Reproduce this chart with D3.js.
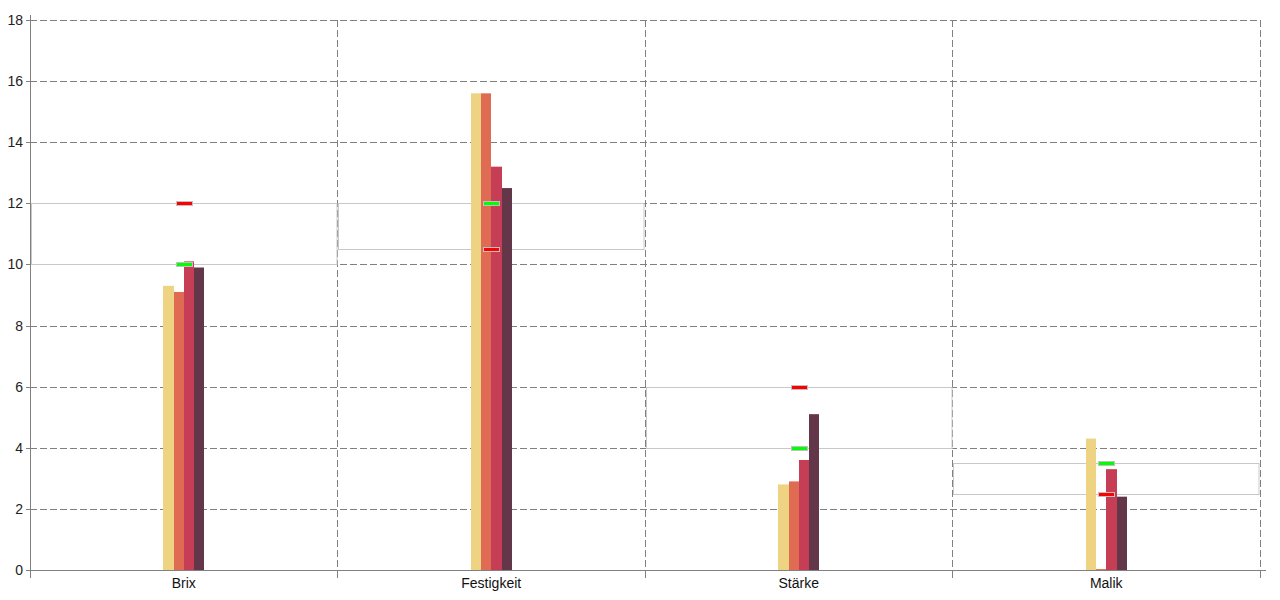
<!DOCTYPE html>
<html>
<head>
<meta charset="utf-8">
<script src="https://cdn.jsdelivr.net/npm/d3@7"></script>
<style>
  html, body { margin: 0; padding: 0; background: #fff; }
  text { font-family: "Liberation Sans", Arial, sans-serif; }
</style>
</head>
<body>
<svg id="chart" width="1280" height="600"></svg>
<script>
const categories = ["Brix", "Festigkeit", "Stärke", "Malik"];
const series1 = [9.3, 15.6, 2.8, 4.3];
const series2 = [9.1, 15.6, 2.9, 0.03];
const series3 = [10.1, 13.2, 3.6, 3.3];
const series4 = [9.9, 12.5, 5.1, 2.4];
const greenMarker = [10, 12, 4, 3.5];
const redMarker = [12, 10.5, 6, 2.5];
const rangeLow = [10, 10.5, 4, 2.5];
const rangeHigh = [12, 12, 6, 3.5];
const yTicks = [0, 2, 4, 6, 8, 10, 12, 14, 16, 18];
const seriesColors = ["#EDD382", "#DE6B52", "#C63D56", "#64364A"];

const allSeries = [series1, series2, series3, series4];

const svg = d3.select("#chart");
const pLeft = 30, pRight = 1260, pTop = 20, pBottom = 570;

const x = d3.scaleBand().domain(categories).range([pLeft, pRight]).paddingInner(0).paddingOuter(0);
const y = d3.scaleLinear().domain([0, 18]).range([pBottom, pTop]);
const barW = x.bandwidth() / 30;
const xs = d3.scaleBand().domain(d3.range(4)).range([-2 * barW, 2 * barW]).padding(0);

const gridColor = "#808080";

// horizontal dashed grid
svg.append("g").selectAll("line").data(yTicks.filter(d => d > 0)).join("line")
  .attr("x1", pLeft).attr("x2", pRight)
  .attr("y1", d => Math.round(y(d)) + 0.5).attr("y2", d => Math.round(y(d)) + 0.5)
  .attr("stroke", gridColor).attr("stroke-width", 1).attr("stroke-dasharray", "7,3");

// vertical dashed grid at band boundaries
const bounds = categories.map(c => x(c) + x.bandwidth());
svg.append("g").selectAll("line").data(bounds).join("line")
  .attr("x1", d => Math.floor(d) + 0.5).attr("x2", d => Math.floor(d) + 0.5)
  .attr("y1", pTop).attr("y2", pBottom)
  .attr("stroke", gridColor).attr("stroke-width", 1).attr("stroke-dasharray", "7,3");

// range rectangles
svg.append("g").selectAll("rect").data(categories).join("rect")
  .attr("x", d => Math.floor(x(d)) + 1.5)
  .attr("width", x.bandwidth() - 2)
  .attr("y", (d, i) => Math.round(y(rangeHigh[i])) + 0.5)
  .attr("height", (d, i) => Math.round(y(rangeLow[i])) - Math.round(y(rangeHigh[i])))
  .attr("fill", "none").attr("stroke", "#c8c8c8").attr("stroke-width", 1);

// bars
allSeries.forEach((vals, si) => {
  const bx = d => Math.round(x(d) + x.bandwidth() / 2 + xs(si));
  const bx2 = d => Math.round(x(d) + x.bandwidth() / 2 + xs(si) + xs.bandwidth());
  svg.append("g").selectAll("rect").data(categories).join("rect")
    .attr("x", d => bx(d))
    .attr("width", d => bx2(d) - bx(d))
    .attr("y", (d, i) => y(vals[i]))
    .attr("height", (d, i) => Math.max(1, y(0) - y(vals[i])))
    .attr("fill", seriesColors[si]);
});

// markers
function drawMarkers(vals, color) {
  svg.append("g").selectAll("rect").data(categories).join("rect")
    .attr("x", d => Math.round(x(d) + x.bandwidth() / 2) - 8 + 0.5)
    .attr("y", (d, i) => Math.round(y(vals[i])) - 2 + 0.5)
    .attr("width", 16).attr("height", 4)
    .attr("fill", color).attr("stroke", "#c0c0c0").attr("stroke-width", 1);
}
drawMarkers(greenMarker, "#00ff00");
drawMarkers(redMarker, "#ff0000");

// axes
const axisColor = "#808080";
svg.append("line").attr("x1", pLeft + 0.5).attr("x2", pLeft + 0.5).attr("y1", 15).attr("y2", 578)
  .attr("stroke", axisColor);
svg.append("line").attr("x1", pLeft - 4).attr("x2", pRight + 6).attr("y1", pBottom + 0.5).attr("y2", pBottom + 0.5)
  .attr("stroke", axisColor);

// y ticks
const yt = svg.append("g");
yt.selectAll("line").data(yTicks).join("line")
  .attr("x1", pLeft - 4).attr("x2", pLeft + 0.5)
  .attr("y1", d => Math.round(y(d)) + 0.5).attr("y2", d => Math.round(y(d)) + 0.5)
  .attr("stroke", axisColor);
yt.selectAll("text").data(yTicks).join("text")
  .attr("x", pLeft - 7).attr("y", d => y(d) + 5)
  .attr("text-anchor", "end").attr("font-size", 14).attr("fill", "#222")
  .text(d => d);

// x ticks
const xb = [pLeft].concat(bounds);
svg.append("g").selectAll("line").data(xb).join("line")
  .attr("x1", d => Math.floor(d) + 0.5).attr("x2", d => Math.floor(d) + 0.5)
  .attr("y1", pBottom).attr("y2", 578)
  .attr("stroke", axisColor);
svg.append("g").selectAll("text").data(categories).join("text")
  .attr("x", d => x(d) + x.bandwidth() / 2).attr("y", 588)
  .attr("text-anchor", "middle").attr("font-size", 14).attr("fill", "#111")
  .text(d => d);
</script>
</body>
</html>
